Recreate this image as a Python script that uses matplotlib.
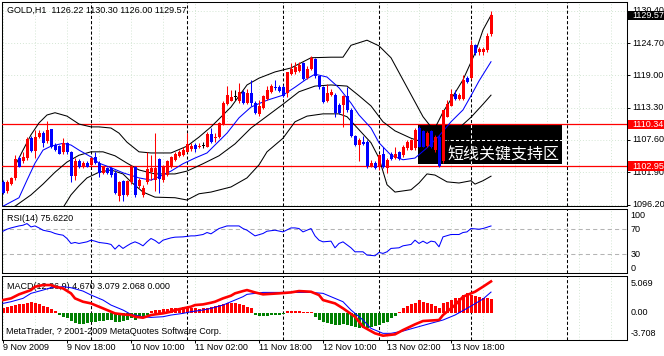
import matplotlib
matplotlib.use('Agg')

import matplotlib.pyplot as plt
from matplotlib.patches import Rectangle
import numpy as np

plt.rcParams['font.family'] = ['Liberation Sans', 'DejaVu Sans']
plt.rcParams['font.size'] = 6.5

# GOLD H1 candles, one per hour (bar index 0..122)
opens = [1100.2, 1098.5, 1099.9, 1100.8, 1104.4, 1103.8, 1104.4, 1107.9, 1105.7, 1108.1,
         1108.9, 1107.4, 1109.5, 1106.7, 1106.5, 1105.4, 1107.0, 1105.5, 1101.2, 1103.9,
         1102.8, 1103.6, 1103.2, 1104.5, 1103.6, 1101.8, 1102.6, 1102.6, 1101.8, 1097.7,
         1100.4, 1097.9, 1100.2, 1102.9, 1099.4, 1097.9, 1100.2, 1102.0, 1100.5, 1104.2,
         1100.5, 1101.4, 1102.9, 1104.1, 1104.7, 1105.0, 1105.5, 1106.0, 1106.7, 1106.4,
         1106.5, 1106.4, 1108.6, 1107.9, 1108.1, 1110.4, 1113.9, 1114.5, 1115.2, 1114.4,
         1116.0, 1114.1, 1115.8, 1114.1, 1112.2, 1113.2, 1114.8, 1116.1, 1117.0, 1116.9,
         1117.0, 1115.8, 1119.2, 1119.5, 1119.8, 1121.1, 1118.5, 1120.1, 1121.8, 1118.8,
         1116.9, 1114.5, 1115.5, 1115.5, 1113.8, 1113.8, 1115.3, 1112.9, 1108.3, 1106.7,
         1107.3, 1107.3, 1102.9, 1103.5, 1102.9, 1105.1, 1102.6, 1105.1, 1104.4, 1105.5,
         1104.9, 1106.1, 1105.9, 1106.1, 1109.7, 1109.1, 1106.5, 1109.1, 1105.8, 1108.2,
         1103.8, 1111.7, 1113.6, 1115.7, 1114.8, 1114.8, 1118.6, 1118.6, 1124.4, 1123.2,
         1123.2, 1123.4, 1126.22]
highs = [1100.5, 1100.5, 1101.1, 1104.9, 1104.8, 1105.5, 1108.1, 1108.3, 1109.4, 1109.4,
         1109.1, 1111.0, 1109.6, 1107.0, 1106.7, 1107.9, 1107.3, 1105.7, 1104.4, 1104.2,
         1103.8, 1103.8, 1104.6, 1105.5, 1103.8, 1102.9, 1102.9, 1102.9, 1102.3, 1100.4,
         1100.5, 1100.5, 1103.2, 1103.0, 1100.8, 1099.7, 1105.5, 1104.9, 1108.9, 1104.4,
         1103.2, 1104.1, 1104.8, 1105.5, 1105.8, 1106.4, 1108.8, 1107.0, 1107.0, 1107.1,
         1107.3, 1109.0, 1109.7, 1108.8, 1110.8, 1114.4, 1117.1, 1116.4, 1116.4, 1117.6,
         1116.4, 1116.5, 1118.2, 1114.4, 1114.6, 1115.5, 1117.1, 1117.5, 1118.1, 1117.3,
         1117.3, 1119.6, 1121.1, 1121.4, 1121.4, 1121.4, 1120.6, 1122.4, 1122.0, 1118.9,
         1117.1, 1117.5, 1116.5, 1115.8, 1114.1, 1115.5, 1116.9, 1113.2, 1108.5, 1107.9,
         1108.3, 1107.5, 1104.1, 1103.8, 1105.2, 1106.4, 1104.4, 1105.4, 1106.4, 1105.7,
         1106.7, 1107.6, 1107.7, 1109.7, 1110.1, 1109.3, 1109.1, 1109.3, 1108.5, 1108.5,
         1112.9, 1114.6, 1116.5, 1116.4, 1115.8, 1119.1, 1118.9, 1125.2, 1124.6, 1124.0,
         1124.0, 1126.4, 1130.30]
lows = [1098.0, 1098.2, 1099.6, 1100.6, 1102.8, 1103.6, 1104.1, 1105.5, 1104.4, 1107.9,
        1106.4, 1107.1, 1106.1, 1105.7, 1105.1, 1105.1, 1105.1, 1100.2, 1100.6, 1102.6,
        1102.6, 1102.8, 1103.0, 1103.4, 1101.1, 1101.6, 1101.6, 1101.1, 1098.0, 1096.9,
        1096.9, 1097.7, 1099.9, 1097.6, 1099.1, 1097.6, 1099.9, 1100.5, 1098.5, 1098.3,
        1100.2, 1101.2, 1102.6, 1103.8, 1104.5, 1104.8, 1105.4, 1105.7, 1105.5, 1106.1,
        1106.1, 1106.3, 1107.1, 1107.3, 1107.9, 1110.2, 1113.8, 1114.4, 1114.6, 1114.2,
        1113.9, 1113.9, 1113.6, 1112.2, 1111.8, 1113.0, 1114.6, 1115.8, 1116.4, 1116.1,
        1115.1, 1115.1, 1119.0, 1119.2, 1119.6, 1118.1, 1118.3, 1119.9, 1118.5, 1116.5,
        1114.1, 1114.3, 1115.3, 1111.6, 1112.2, 1109.9, 1112.6, 1108.2, 1106.5, 1103.9,
        1106.7, 1102.6, 1102.8, 1102.4, 1102.3, 1102.6, 1101.7, 1104.0, 1104.2, 1104.0,
        1104.6, 1105.9, 1105.8, 1105.9, 1106.3, 1106.3, 1106.4, 1106.1, 1105.5, 1102.9,
        1103.5, 1111.6, 1113.5, 1114.6, 1114.6, 1114.6, 1117.7, 1118.4, 1122.6, 1122.6,
        1122.6, 1123.2, 1126.00]
closes = [1098.3, 1100.2, 1100.8, 1104.2, 1102.9, 1104.6, 1107.7, 1105.7, 1108.2, 1108.8,
          1107.1, 1109.4, 1106.4, 1105.9, 1105.2, 1107.0, 1105.4, 1101.2, 1103.9, 1102.9,
          1103.6, 1102.9, 1104.4, 1103.5, 1101.8, 1102.8, 1101.8, 1101.4, 1098.2, 1100.2,
          1097.9, 1100.4, 1103.0, 1097.9, 1100.5, 1099.1, 1102.4, 1102.6, 1102.6, 1100.7,
          1102.9, 1103.8, 1104.5, 1105.2, 1105.5, 1105.9, 1106.9, 1106.5, 1106.0, 1106.6,
          1106.5, 1108.6, 1107.3, 1108.2, 1110.5, 1114.1, 1115.5, 1115.2, 1115.2, 1116.0,
          1114.1, 1115.8, 1114.1, 1112.4, 1113.6, 1115.3, 1116.4, 1117.1, 1116.7, 1116.3,
          1115.3, 1119.5, 1120.2, 1120.4, 1120.8, 1118.3, 1120.2, 1122.0, 1118.8, 1116.9,
          1114.3, 1115.8, 1116.1, 1112.3, 1112.4, 1115.3, 1112.9, 1108.3, 1106.7, 1107.6,
          1106.9, 1103.0, 1103.6, 1102.6, 1104.9, 1102.9, 1104.1, 1104.2, 1105.2, 1104.2,
          1106.4, 1107.3, 1107.5, 1109.4, 1106.4, 1106.4, 1108.8, 1106.4, 1108.2, 1103.0,
          1112.8, 1113.9, 1115.7, 1114.8, 1115.5, 1118.2, 1117.9, 1124.4, 1122.9, 1123.6,
          1123.6, 1126.0, 1129.57]

# Bollinger bands (black) and moving average (blue), read at sample bars
upper_bars = [3, 5, 7, 9, 11, 13, 16, 19, 22, 24, 27, 29, 31, 34, 37, 42, 46, 49, 52, 57,
              61, 64, 68, 72, 77, 82, 85, 87, 91, 94, 97, 100, 103, 105, 107, 108, 110,
              113, 115, 118, 120, 122]
upper_vals = [1103.0, 1105.8, 1108.5, 1110.6, 1112.0, 1112.4, 1111.8, 1110.4, 1109.9, 1109.9,
              1109.7, 1108.8, 1107.2, 1105.5, 1105.3, 1105.3, 1106.5, 1108.1, 1109.9, 1113.4,
              1117.3, 1118.5, 1119.6, 1120.3, 1122.1, 1122.2, 1122.2, 1124.3, 1125.2, 1124.2,
              1122.1, 1118.2, 1114.3, 1111.7, 1109.9, 1109.7, 1112.5, 1115.9, 1118.2, 1122.9,
              1127.0, 1129.6]
mid_bars = [1, 3, 7, 10, 13, 16, 19, 22, 25, 28, 31, 34, 38, 43, 46, 50, 54, 58, 62, 66,
            70, 74, 78, 82, 86, 89, 92, 95, 98, 102, 105, 108, 111, 114, 117, 120, 122]
mid_vals = [1094.5, 1095.9, 1097.9, 1099.8, 1101.9, 1103.7, 1104.9, 1105.5, 1105.5, 1104.8,
            1103.5, 1102.3, 1101.6, 1101.6, 1102.1, 1103.4, 1104.8, 1106.9, 1109.7, 1111.8,
            1113.9, 1116.1, 1117.1, 1117.3, 1117.1, 1115.4, 1113.6, 1110.8, 1109.2, 1107.9,
            1107.2, 1106.6, 1107.4, 1109.7, 1111.6, 1113.9, 1115.5]
low_bars = [14, 17, 19, 21, 24, 27, 30, 32, 35, 38, 43, 46, 49, 52, 57, 61, 64, 66, 70, 73,
            76, 80, 84, 86, 89, 92, 94, 96, 98, 102, 104, 106, 108, 111, 114, 117, 118, 120, 122]
low_vals = [1094.5, 1097.9, 1099.5, 1100.9, 1101.9, 1102.3, 1101.6, 1100.2, 1098.4, 1097.5,
            1097.4, 1097.0, 1098.1, 1098.4, 1099.3, 1100.9, 1103.2, 1105.5, 1107.9, 1110.8,
            1111.8, 1112.2, 1112.2, 1111.7, 1109.4, 1107.1, 1104.4, 1099.7, 1098.4, 1098.8,
            1100.0, 1101.6, 1101.4, 1100.2, 1100.0, 1100.4, 1099.8, 1100.4, 1101.2]
ma_bars = [0, 4, 6, 8, 10, 12, 15, 17, 19, 22, 24, 27, 30, 34, 37, 39, 42, 45, 48, 51,
           53, 56, 59, 62, 66, 70, 73, 76, 78, 81, 84, 87, 89, 92, 94, 97, 100, 103, 106, 109,
           112, 115, 117, 119, 122]
ma_vals = [1095.9, 1097.4, 1100.5, 1103.5, 1105.8, 1106.5, 1107.0, 1106.7, 1105.8, 1104.6,
           1103.5, 1102.7, 1101.8, 1100.9, 1100.5, 1101.1, 1102.1, 1103.4, 1104.4, 1105.3,
           1106.7, 1108.8, 1111.5, 1113.4, 1114.6, 1115.5, 1116.9, 1118.4, 1119.2, 1118.7,
           1116.8, 1114.1, 1112.0, 1109.7, 1107.1, 1104.9, 1104.1, 1104.4, 1106.2, 1108.3,
           1110.8, 1112.9, 1115.4, 1118.0, 1121.4]

# RSI(14)
rsi_bars = [0, 1, 2, 4, 5, 6, 7, 8, 9, 10, 12, 13, 14, 15, 16, 17, 18, 19, 21, 22,
            23, 24, 26, 27, 28, 29, 30, 31, 32, 33, 34, 35, 36, 37, 38, 39, 40, 42, 43, 45,
            47, 48, 50, 51, 52, 54, 56, 57, 59, 60, 61, 63, 65, 66, 68, 70, 72, 73, 74, 75,
            76, 77, 78, 79, 80, 82, 83, 84, 85, 87, 88, 90, 91, 93, 94, 95, 96, 97, 99, 100,
            102, 103, 104, 105, 106, 107, 108, 109, 110, 112, 114, 115, 116, 117, 119, 120, 122]
rsi_vals = [67.2, 70.4, 72.5, 75.7, 76.8, 79.5, 74.1, 75.7, 72.5, 68.8, 66.1, 63.5, 61.9, 60.8,
            55.5, 47.5, 49.1, 47.5, 50.1, 52.8, 51.2, 49.1, 47.5, 45.9, 38.4, 44.8, 39.5, 43.7,
            47.5, 50.1, 47.5, 43.7, 50.1, 55.5, 52.3, 47.5, 52.8, 56.5, 57.6, 58.1, 59.7, 59.7,
            61.9, 65.1, 63.0, 71.5, 75.7, 75.7, 75.7, 71.5, 68.8, 59.7, 63.5, 67.2, 68.8, 66.1,
            72.5, 72.5, 71.5, 66.1, 68.8, 71.5, 59.7, 52.8, 50.1, 51.2, 40.5, 47.5, 50.1, 40.5,
            34.1, 34.1, 28.8, 27.7, 33.1, 31.5, 34.1, 39.5, 40.5, 43.7, 45.9, 52.8, 47.5, 51.2,
            47.5, 51.2, 50.1, 42.1, 58.1, 61.9, 61.9, 65.1, 66.1, 71.5, 70.4, 71.5, 75.622]

# MACD(12,26,9)
macd_bars = [0, 2, 4, 7, 8, 10, 12, 13, 15, 17, 18, 20, 22, 23, 25, 27, 28, 30, 32, 33,
             35, 37, 38, 40, 42, 43, 45, 47, 48, 50, 52, 53, 55, 57, 58, 60, 61, 63, 65, 69,
             72, 74, 77, 79, 80, 83, 85, 88, 90, 93, 95, 98, 100, 103, 105, 109, 110, 113,
             115, 118, 120, 122]
macd_vals = [1.89, 2.14, 2.74, 3.38, 3.88, 4.13, 4.13, 3.88, 3.63, 2.89, 2.14, 1.64, 1.39, 1.14,
             0.65, 0.15, -0.10, -0.25, -0.35, -0.60, -0.75, -0.35, -0.25, -0.10, 0.15, 0.40,
             0.65, 0.90, 1.14, 1.24, 1.49, 1.64, 2.14, 2.54, 2.89, 3.23, 3.38, 3.03, 2.74, 2.89,
             3.03, 3.23, 3.13, 2.64, 1.89, 1.39, 0.65, -0.60, -2.09, -3.08, -3.43, -3.23, -2.59,
             -1.74, -1.24, -1.09, -0.35, 1.14, 2.39, 3.13, 3.88, 4.670]
signal_bars = [0, 2, 5, 7, 10, 12, 15, 17, 20, 22, 25, 27, 30, 32, 35, 37, 40, 42, 45, 47,
               50, 52, 55, 57, 60, 61, 65, 69, 73, 77, 80, 82, 85, 87, 90, 92, 95, 97, 100, 103,
               106, 110, 113, 116, 120, 122]
signal_vals = [1.39, 1.64, 2.14, 2.89, 3.38, 3.73, 3.88, 3.73, 3.23, 2.64, 1.89, 1.14, 0.40,
               -0.25, -0.60, -0.70, -0.60, -0.35, -0.10, 0.15, 0.40, 0.65, 1.14, 1.64, 2.39,
               2.74, 3.03, 3.03, 3.03, 3.03, 2.89, 2.39, 1.64, 0.40, -1.09, -2.34, -3.08, -3.08,
               -2.74, -2.24, -1.74, -1.09, -0.35, 0.65, 2.04, 3.079]
hist_vals = [0.75, 0.85, 1.0, 1.2, 1.3, 1.35, 1.5, 1.6, 1.45, 1.25, 1.05, 0.85, 0.5, 0.2,
             -0.35, -0.6, -0.85, -1.3, -1.6, -1.75, -1.75, -1.6, -1.45, -1.35, -1.25, -1.25,
             -1.1, -1.1, -1.35, -1.45, -1.25, -1.1, -0.85, -1.05, -0.85, -0.6, -0.35,
             0.25, 0.35, 0.4, 0.5, 0.55, 0.65, 0.65, 0.75, 0.85, 0.9, 0.75, 0.65, 0.55, 0.65,
             0.75, 0.9, 1.0, 1.15, 1.25, 1.4, 1.5, 1.4, 1.3, 1.15, 0.9, 0.65,
             -0.3, -0.45, -0.5, -0.45, -0.4, -0.35, -0.3, -0.25,
             0.2, 0.25, 0.25, 0.2, 0.15, 0.1, 0.1,
             -0.6, -1.09, -1.34, -1.59, -1.74, -1.84, -1.84, -1.74, -1.84, -1.94, -2.09, -2.34,
             -2.34, -2.24, -2.09, -1.94, -1.84, -1.59, -1.34, -0.85, -0.45,
             0.15, 0.65, 1.04, 1.24, 1.39, 1.89, 1.64, 1.39, 1.24, 1.04, 0.75, 1.39, 1.64, 1.89,
             2.24, 2.24, 2.64, 2.89, 2.64, 2.54, 2.39, 2.24, 2.14, 2.068]

# axis labels and levels
price_ticks = [1130.40, 1124.70, 1119.00, 1113.30, 1107.60, 1101.90, 1096.20]
rsi_ticks = [100, 70, 30, 0]
macd_ticks = [5.069, 0.00, -3.708]
support_levels = [1110.34, 1102.95]
zone_low = 1103.3
zone_text = '短线关键支持区'
x_labels = ['9 Nov 2009', '9 Nov 18:00', '10 Nov 10:00', '11 Nov 02:00', '11 Nov 18:00',
            '12 Nov 10:00', '13 Nov 02:00', '13 Nov 18:00']
label_bars = [0, 16, 32, 48, 64, 80, 96, 112]
separator_bars = [22, 46, 70, 94, 117, 141]

W, H = 664, 356


def rect(x0, y0, x1, y1):
    # pixel box (from top-left) -> figure fraction
    return [x0 / W, 1 - y1 / H, (x1 - x0) / W, (y1 - y0) / H]


def fx(x):
    return x / W


def fy(y):
    return 1 - y / H


fig = plt.figure(figsize=(W / 100, H / 100), dpi=100)
fig.patch.set_facecolor('white')
ax = fig.add_axes(rect(2, 2, 627, 206))
ax_rsi = fig.add_axes(rect(2, 208.7, 627, 273.3))
ax_macd = fig.add_axes(rect(2, 276, 627, 339.5))

ax.set_ylim(1095.94, 1131.94)
ax_rsi.set_ylim(-0.5, 103.4)
ax_macd.set_ylim(-4.0, 5.48)

grid_col = '#d4e6d4'
for a in (ax, ax_rsi, ax_macd):
    a.set_xlim(-0.25, 156)
    for s in a.spines.values():
        s.set_linewidth(0.75)
        s.set_color('black')
    for b in range(0, 157, 8):
        a.axvline(b, color=grid_col, lw=0.7, ls=(0, (1, 2)), zorder=0)
    for b in separator_bars:
        a.axvline(b, color='black', lw=0.75, ls=(0, (3, 2)), zorder=1)
    a.set_xticks([])
    a.set_yticks([])

for p in price_ticks:
    ax.axhline(p, color=grid_col, lw=0.7, ls=(0, (1, 2)), zorder=0)

# support zone
ax.add_patch(Rectangle((103.75, zone_low), 36, support_levels[0] - zone_low,
                       facecolor='black', edgecolor='none', zorder=2))
for lvl in support_levels:
    ax.axhline(lvl, color='red', lw=0.9, zorder=2.6)
ax.plot([110.6, 139.75], [price_ticks[4]] * 2, color='white', lw=0.75, ls=(0, (3, 2)), zorder=2.5)
ax.plot([separator_bars[4]] * 2, [zone_low, support_levels[0]], color='white', lw=0.75,
        ls=(0, (3, 2)), zorder=2.5)
ax.text(125.2, 1105.0, zone_text, color='white', fontsize=11.5, family=['Noto Sans CJK SC'],
        ha='center', va='center', zorder=5)

# bands and MA
for bx, by in ((upper_bars, upper_vals), (mid_bars, mid_vals), (low_bars, low_vals)):
    ax.plot(bx, by, color='black', lw=0.75, zorder=3)
ax.plot(ma_bars, ma_vals, color='blue', lw=0.75, zorder=3)

# candles
o, h, l, c = (np.array(v) for v in (opens, highs, lows, closes))
x = np.arange(len(c))
cols = np.where(c > o, 'red', np.where(c < o, 'blue', 'black'))
ax.vlines(x, l, h, colors=cols, lw=0.75, zorder=4)
ax.bar(x, np.maximum(np.abs(c - o), 0.18), bottom=np.minimum(o, c), width=0.75,
       color=cols, lw=0, zorder=4)

# price axis (ticks only on the main panel)
ax.yaxis.set_ticks_position('right')
ax.set_yticks(price_ticks)
ax.tick_params(axis='y', length=2.2, width=0.7, labelright=False, labelleft=False)
ytr = ax.get_yaxis_transform()
for p in price_ticks:
    ax.text(1.008, p, f'{p:.2f}', transform=ytr, va='center', ha='left', clip_on=False)
for v, fc in ((closes[-1], 'black'), (support_levels[0], 'red'), (support_levels[1], 'red')):
    ax.add_patch(Rectangle((1.0016, v - 0.85), 0.06, 1.7, transform=ytr, facecolor=fc,
                           edgecolor='none', clip_on=False, zorder=6))
    ax.text(1.008, v, f'{v:.2f}', transform=ytr, color='white', va='center', ha='left',
            clip_on=False, zorder=7)
ax.text(fx(7), fy(10.3), f'GOLD,H1  {opens[-1]:.2f} {highs[-1]:.2f} {lows[-1]:.2f} {closes[-1]:.2f}',
        transform=fig.transFigure, va='center', ha='left', zorder=1)

# RSI panel
for lvl in (70, 30):
    ax_rsi.axhline(lvl, color='#b4b4b4', lw=0.75, ls=(0, (4, 3)), zorder=1)
ax_rsi.plot(rsi_bars, rsi_vals, color='blue', lw=0.75, zorder=3)
rtr = ax_rsi.get_yaxis_transform()
for v in rsi_ticks:
    va = 'top' if v == 100 else ('bottom' if v == 0 else 'center')
    ax_rsi.text(1.006, v, f'{v}', transform=rtr, va=va, ha='left', clip_on=False, zorder=6)
ax_rsi.text(fx(7), fy(218.7), f'RSI(14) {rsi_vals[-1]:.4f}', transform=fig.transFigure,
            va='center', ha='left', zorder=1)

# MACD panel
hv = np.array(hist_vals)
ax_macd.bar(x, hv, width=0.75, color=np.where(hv >= 0, 'red', 'green'), lw=0, zorder=2)
ax_macd.plot(signal_bars, signal_vals, color='blue', lw=0.75, zorder=3)
ax_macd.plot(macd_bars, macd_vals, color='red', lw=1.9, zorder=4)
mtr = ax_macd.get_yaxis_transform()
for v in macd_ticks:
    va = 'top' if v > 0 else ('bottom' if v < 0 else 'center')
    txt = f'{v:.2f}' if v == 0 else f'{v:.3f}'
    ax_macd.text(1.006, v, txt, transform=mtr, va=va, ha='left', clip_on=False, zorder=6)
ax_macd.text(fx(7), fy(286.7),
             f'MACD(12,26,9) {macd_vals[-1]:.3f} {signal_vals[-1]:.3f} {hist_vals[-1]:.3f} 0.000',
             transform=fig.transFigure, va='center', ha='left', zorder=1)
ax_macd.text(fx(6), fy(331.7), 'MetaTrader, ? 2001-2009 MetaQuotes Software Corp.',
             transform=fig.transFigure, va='center', ha='left', zorder=1)

# time axis
ax_macd.set_xticks(label_bars)
ax_macd.tick_params(axis='x', length=2.2, width=0.7, labelbottom=False)
xtr = ax_macd.get_xaxis_transform()
for b, s in zip(label_bars, x_labels):
    ax_macd.text(b, -0.13, s, transform=xtr, va='center', ha='left', clip_on=False)

fig.savefig('out.png', dpi=100)
